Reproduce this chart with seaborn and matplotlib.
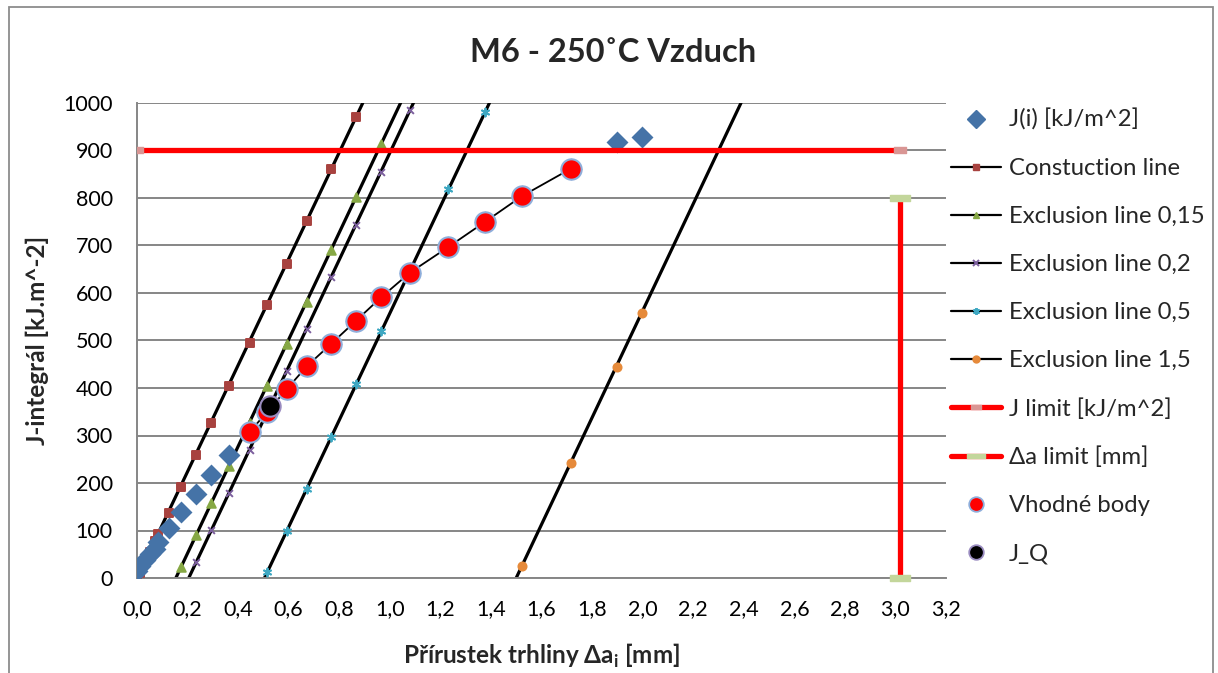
import matplotlib
matplotlib.use("Agg")
import matplotlib.pyplot as plt
from matplotlib.lines import Line2D
from matplotlib.patches import Rectangle
from matplotlib.path import Path
import pandas as pd
import seaborn as sns

# ---- measured R-curve: crack extension Δa [mm] and J-integral [kJ/m^2]
delta_a = [0.00, 0.01, 0.03, 0.05, 0.07, 0.085, 0.125, 0.175, 0.234, 0.294, 0.364,
           0.445, 0.515, 0.593, 0.672, 0.768, 0.867, 0.966, 1.080, 1.232, 1.377,
           1.523, 1.717, 1.897, 1.996]
j_values = [15, 25, 38, 50, 62, 76, 105, 140, 177, 217, 260,
            307, 350, 398, 446, 493, 542, 591, 643, 697, 750,
            804, 862, 917, 928]

# qualified points (between the 0.15 and 1.5 exclusion lines)
fit_a = [0.445, 0.515, 0.593, 0.672, 0.768, 0.867, 0.966, 1.080, 1.232, 1.377, 1.523, 1.717]
fit_j = [307, 350, 398, 446, 493, 542, 591, 643, 697, 750, 804, 862]

# J_Q point
jq_a = [0.525]
jq_j = [362]

# construction (blunting) line evaluated at the measured Δa
constr_a = [0.0, 0.01, 0.03, 0.05, 0.07, 0.085, 0.125, 0.175, 0.234, 0.294, 0.364,
            0.445, 0.515, 0.593, 0.672, 0.768, 0.867]
constr_j = [0, 11, 33, 55, 77, 93, 137, 192, 258, 326, 404,
            494, 574, 662, 752, 861, 971]

# exclusion lines
excl015_a = [0.175, 0.234, 0.294, 0.364, 0.445, 0.515, 0.593, 0.672, 0.768, 0.867, 0.966]
excl015_j = [24, 90, 157, 235, 326, 405, 493, 582, 691, 803, 914]

excl02_a = [0.234, 0.294, 0.364, 0.445, 0.515, 0.593, 0.672, 0.768, 0.867, 0.966, 1.080]
excl02_j = [33, 101, 179, 270, 349, 436, 525, 633, 744, 855, 985]

excl05_a = [0.515, 0.593, 0.672, 0.768, 0.867, 0.966, 1.080, 1.232, 1.377]
excl05_j = [12, 99, 188, 297, 408, 519, 646, 819, 981]

excl15_a = [1.523, 1.717, 1.897, 1.996]
excl15_j = [26, 242, 444, 558]

# validity limits
j_limit_a = [0.0, 3.02]
j_limit_j = [902, 902]
da_limit_a = [3.02, 3.02]
da_limit_j = [0, 800]

x_ticks = [0.0, 0.2, 0.4, 0.6, 0.8, 1.0, 1.2, 1.4, 1.6, 1.8, 2.0, 2.2, 2.4, 2.6, 2.8, 3.0, 3.2]
y_ticks = [0, 100, 200, 300, 400, 500, 600, 700, 800, 900, 1000]

title = "M6 - 250˚C Vzduch"
x_label = r"Přírustek trhliny Δa$_\mathbf{i}$ [mm]"
y_label = "J-integrál [kJ.m^-2]"

labels = ["J(i) [kJ/m^2]", "Constuction line", "Exclusion line 0,15",
          "Exclusion line 0,2", "Exclusion line 0,5", "Exclusion line 1,5",
          "J limit [kJ/m^2]", "Δa limit [mm]", "Vhodné body", "J_Q"]

# ---- styling
sns.set_style("white")
plt.rcParams["font.family"] = ["Lato", "DejaVu Sans"]
plt.rcParams["mathtext.fontset"] = "custom"
plt.rcParams["mathtext.rm"] = "Lato"
plt.rcParams["mathtext.bf"] = "Lato:bold"

GRID = "#868686"
BLUE = "#4573A7"
SQ = "#A8423F"
TRI = "#86A844"
PURP = "#7C5F9E"
TEAL = "#3FA8C2"
ORNG = "#E68A3A"
PINK = "#D99694"
OLIVE = "#C3D69B"

W, H = 1218, 673
fig = plt.figure(figsize=(W / 100, H / 100), dpi=100)
fig.patch.set_facecolor("white")
fig.patches.append(Rectangle((9 / W, -0.05), (1213 - 9) / W, 1.05 - 7 / H,
                             transform=fig.transFigure, fill=False,
                             edgecolor="#8C8C8C", lw=1.3))

ax = fig.add_axes([137 / W, 1 - 578 / H, (946 - 137) / W, (578 - 103) / H])
ax.set_xlim(0, 3.2)
ax.set_ylim(0, 1000)
ax.set_axisbelow(True)
ax.yaxis.grid(True, color=GRID, lw=1.4)
ax.xaxis.grid(False)
for s in ("top", "right"):
    ax.spines[s].set_visible(False)
for s in ("left", "bottom"):
    ax.spines[s].set_color(GRID)
    ax.spines[s].set_linewidth(1.4)
ax.set_xticks(x_ticks)
ax.set_xticklabels([f"{t:.1f}".replace(".", ",") for t in x_ticks])
ax.set_yticks(y_ticks)
ax.set_yticklabels([str(t) for t in y_ticks])
ax.tick_params(axis="both", direction="out", length=6.5, width=1.4, color=GRID,
               labelsize=15.5, labelcolor="black")
ax.tick_params(axis="y", pad=11)
ax.tick_params(axis="x", pad=9)

# construction and exclusion lines (black) with their coloured markers
line_sets = [
    (constr_a, constr_j, SQ, "s", 34),
    (excl015_a, excl015_j, TRI, "^", 38),
    (excl02_a, excl02_j, PURP, "x", 24),
    (excl05_a, excl05_j, TEAL, (6, 2, 0), 32),
    (excl15_a, excl15_j, ORNG, "o", 34),
]
for xs, ys, col, mk, sz in line_sets:
    ax.axline((xs[0], ys[0]), (xs[-1], ys[-1]), color="black", lw=2.3, zorder=2)
    df = pd.DataFrame({"a": xs, "J": ys})
    sns.scatterplot(data=df, x="a", y="J", ax=ax, marker=mk, s=sz, color=col,
                    edgecolor=col, linewidth=1.4, zorder=3, legend=False)

# measured J(i)
meas = pd.DataFrame({"a": delta_a, "J": j_values})
sns.scatterplot(data=meas, x="a", y="J", ax=ax, marker="D", s=125, color=BLUE,
                edgecolor=BLUE, linewidth=0, zorder=4, legend=False)

# limits
bar_pink = Path([(-1, -0.45), (1, -0.45), (1, 0.45), (-1, 0.45), (-1, -0.45)], closed=True)
bar_green = Path([(-1, -0.26), (1, -0.26), (1, 0.26), (-1, 0.26), (-1, -0.26)], closed=True)
ax.plot(j_limit_a, j_limit_j, color="red", lw=3.8, marker=bar_pink, ms=8.5,
        mfc=PINK, mec=PINK, zorder=5, solid_capstyle="butt")
ax.plot(da_limit_a, da_limit_j, color="red", lw=3.8, marker=bar_green, ms=14.5,
        mfc=OLIVE, mec=OLIVE, zorder=5, clip_on=False, solid_capstyle="butt")

# R-curve through qualified points
fit = pd.DataFrame({"a": fit_a, "J": fit_j})
sns.lineplot(data=fit, x="a", y="J", ax=ax, color="black", lw=1.3, sort=False,
             zorder=6, legend=False)
sns.scatterplot(data=fit, x="a", y="J", ax=ax, marker="o", s=215, color="red",
                edgecolor="#8EAEDB", linewidth=1.5, zorder=7, legend=False)
sns.scatterplot(x=jq_a, y=jq_j, ax=ax, marker="o", s=215, color="black",
                edgecolor="#9A8CC0", linewidth=1.5, zorder=8, legend=False)

ax.set_xlabel(x_label, fontsize=17.5, fontweight="bold", labelpad=16)
ax.set_ylabel(y_label, fontsize=17.5, fontweight="bold", labelpad=10)
fig.text(0.503, 1 - 52 / H, title, ha="center", va="center",
         fontsize=23.5, fontweight="bold")

# legend
handles = [
    Line2D([], [], ls="none", marker="D", ms=9.5, color=BLUE),
    Line2D([], [], color="black", lw=1.6, marker="s", ms=5, mfc=SQ, mec=SQ),
    Line2D([], [], color="black", lw=1.6, marker="^", ms=5, mfc=TRI, mec=TRI),
    Line2D([], [], color="black", lw=1.6, marker="x", ms=5, mec=PURP, mew=1.4),
    Line2D([], [], color="black", lw=1.6, marker=(6, 2, 0), ms=5, mec=TEAL, mew=1.4),
    Line2D([], [], color="black", lw=1.6, marker="o", ms=5, mfc=ORNG, mec=ORNG),
    Line2D([], [], color="red", lw=3.8, marker=bar_pink, ms=7.5, mfc=PINK, mec=PINK),
    Line2D([], [], color="red", lw=3.8, marker=bar_green, ms=13, mfc=OLIVE, mec=OLIVE),
    Line2D([], [], ls="none", marker="o", ms=10.5, mfc="red", mec="#8EAEDB", mew=1.3),
    Line2D([], [], ls="none", marker="o", ms=10.5, mfc="black", mec="#9A8CC0", mew=1.3),
]
fig.legend(handles, labels, loc="upper left", bbox_to_anchor=(951 / W, 1 - 109 / H),
           frameon=False, fontsize=17.2, handlelength=2.1, handletextpad=0.33,
           labelspacing=1.13, borderpad=0, borderaxespad=0)

fig.savefig("out.png", dpi=100, facecolor="white")
